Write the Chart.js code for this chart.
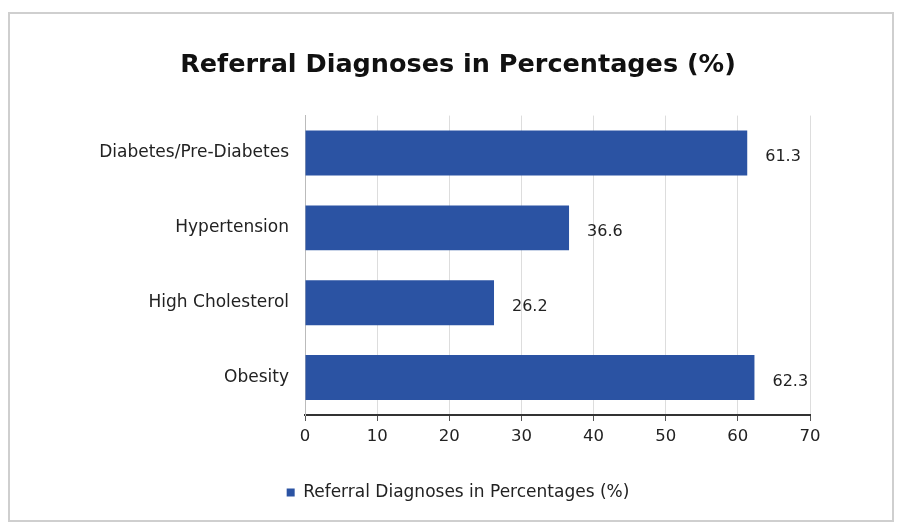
<!DOCTYPE html>
<html>
    <head>
        <meta charset="utf-8" />
        <script src="https://cdn.jsdelivr.net/npm/chart.js@4"></script>
        <style>
         html, body {
             margin: 0;
             padding: 0;
             background: #ffffff;
         }
         #wrap {
             width: 898px;
             height: 527px;
         }
        </style>
        <title>Referral Diagnoses in Percentages (%)</title>
    </head>
    <body>
        <div id="wrap"><canvas id="bar-chart"></canvas></div>
        <script>
            // chart data
            var categories = ["Diabetes/Pre-Diabetes", "Hypertension", "High Cholesterol", "Obesity"];
            var percentages = [61.3, 36.6, 26.2, 62.3];
            var seriesName = "Referral Diagnoses in Percentages (%)";
            var xTicks = [0, 10, 20, 30, 40, 50, 60, 70];

            var barColor = "#2b53a3";
            var fontFace = "DejaVu Sans";

            // frame around the whole chart, and value labels at the bar ends
            var framePlugin = {
                id: 'frame',
                beforeDraw: function(chart) {
                    var ctx = chart.ctx;
                    ctx.save();
                    ctx.fillStyle = "#ffffff";
                    ctx.fillRect(0, 0, chart.width, chart.height);
                    ctx.strokeStyle = "#cfcfcf";
                    ctx.lineWidth = 2;
                    ctx.strokeRect(9, 13, 884, 508);
                    ctx.restore();
                },
                afterDatasetsDraw: function(chart) {
                    var ctx = chart.ctx;
                    var meta = chart.getDatasetMeta(0);
                    ctx.save();
                    ctx.fillStyle = "#222222";
                    ctx.font = "16px " + fontFace;
                    ctx.textBaseline = "middle";
                    ctx.textAlign = "left";
                    meta.data.forEach(function(bar, i) {
                        ctx.fillText(percentages[i].toFixed(1), bar.x + 18, bar.y + 4);
                    });
                    ctx.restore();
                }
            };

            new Chart(document.getElementById("bar-chart"), {
                type: 'bar',
                data: {
                    labels: categories,
                    datasets: [{
                        label: seriesName,
                        data: percentages,
                        backgroundColor: barColor,
                        borderWidth: 0,
                        barPercentage: 0.6,
                        categoryPercentage: 1.0
                    }]
                },
                plugins: [framePlugin],
                options: {
                    indexAxis: 'y',
                    responsive: true,
                    maintainAspectRatio: false,
                    animation: false,
                    layout: {
                        padding: {left: 20, right: 2, top: 20, bottom: 16}
                    },
                    plugins: {
                        title: {
                            display: true,
                            text: 'Referral Diagnoses in Percentages (%)',
                            color: '#111111',
                            font: {family: fontFace, size: 25.5, weight: 'bold'},
                            padding: {top: 30, bottom: 35}
                        },
                        legend: {
                            display: true,
                            position: 'bottom',
                            labels: {
                                color: '#222222',
                                font: {family: fontFace, size: 17},
                                boxWidth: 8,
                                boxHeight: 8,
                                padding: 10
                            }
                        },
                        tooltip: {enabled: false}
                    },
                    scales: {
                        x: {
                            min: 0,
                            max: 70,
                            afterBuildTicks: function(scale) {
                                scale.ticks = xTicks.map(function(v) { return {value: v}; });
                            },
                            afterFit: function(scale) { scale.height = 59; },
                            grid: {
                                color: '#dddddd',
                                lineWidth: 1,
                                tickLength: 6,
                                tickColor: '#555555'
                            },
                            border: {color: '#333333', width: 2},
                            ticks: {
                                color: '#222222',
                                font: {family: fontFace, size: 16.5},
                                padding: 6
                            }
                        },
                        y: {
                            afterFit: function(scale) { scale.width = 285; },
                            grid: {display: false},
                            border: {color: '#bbbbbb', width: 1},
                            ticks: {
                                color: '#222222',
                                font: {family: fontFace, size: 17},
                                padding: 8
                            }
                        },
                        // empty axis on the right, keeps room for the value labels
                        yRight: {
                            position: 'right',
                            afterFit: function(scale) { scale.width = 86; },
                            grid: {display: false},
                            border: {display: false},
                            ticks: {display: false}
                        }
                    }
                }
            });
        </script>
    </body>
</html>
